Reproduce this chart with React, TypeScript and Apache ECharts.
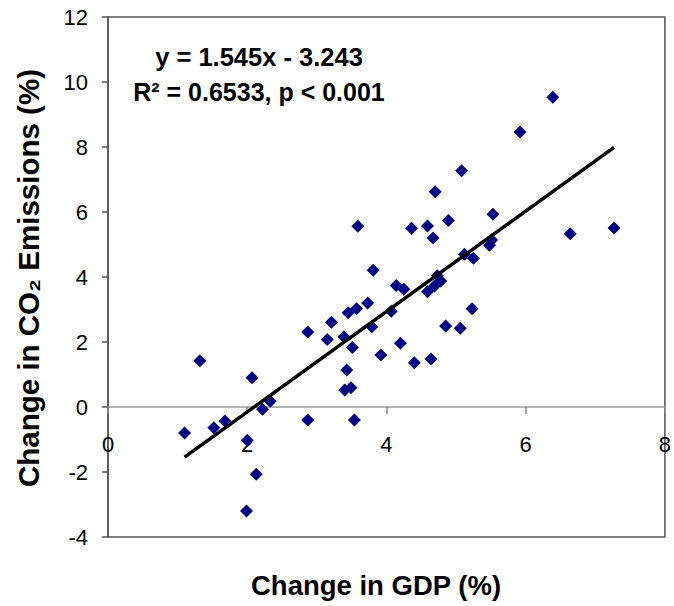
import React, { useEffect, useRef } from "react";
import * as echarts from "echarts";

const gdp = [
  1.10, 1.32, 1.52, 1.68, 2.07, 2.00, 2.13, 1.99, 2.22, 2.33,
  2.87, 2.87, 3.15, 3.21, 3.39, 3.51, 3.43, 3.40, 3.49, 3.54,
  3.92, 3.45, 3.57, 3.73, 3.79, 3.81, 3.59, 4.36, 4.14, 4.25,
  4.07, 4.20, 4.40, 5.08, 4.70, 4.59, 4.67, 4.89, 5.53, 5.51,
  5.48, 5.12, 5.25, 4.73, 4.78, 4.59, 4.69, 5.23, 4.85, 5.06,
  4.64, 6.39, 5.92, 6.64, 7.27,
];
const co2 = [
  -0.80, 1.42, -0.64, -0.43, 0.90, -1.02, -2.07, -3.20, -0.07, 0.18,
  -0.40, 2.31, 2.08, 2.61, 2.16, 1.83, 1.14, 0.52, 0.59, -0.40,
  1.60, 2.90, 3.02, 3.20, 2.47, 4.21, 5.56, 5.50, 3.74, 3.62,
  2.95, 1.96, 1.36, 7.27, 6.62, 5.57, 5.20, 5.74, 5.93, 5.14,
  4.98, 4.70, 4.58, 4.04, 3.88, 3.55, 3.72, 3.02, 2.49, 2.42,
  1.48, 9.53, 8.46, 5.33, 5.51,
];
const trendSlope = 1.545;
const trendIntercept = -3.243;
const equationText = "y = 1.545x - 3.243";
const statsText = "R² = 0.6533, p < 0.001";
const xTitle = "Change in GDP (%)";
const yTitle = "Change in CO₂ Emissions (%)";

export default function App() {
  const ref = useRef<HTMLDivElement>(null);
  useEffect(() => {
    document.body.style.margin = "0";
    if (!ref.current) return;
    const chart = echarts.init(ref.current, null, { renderer: "svg" });
    const points = gdp.map((x, i) => [x, co2[i]]);
    const xMin = Math.min(...gdp);
    const xMax = Math.max(...gdp);
    const trend = [
      [xMin, trendSlope * xMin + trendIntercept],
      [xMax, trendSlope * xMax + trendIntercept],
    ];
    const font = "'Liberation Sans', Arial, sans-serif";
    const gridTop = 17;
    const gridBottomPx = 537;
    const yMin = -4;
    const yMax = 12;
    const zeroPx = gridTop + ((yMax - 0) / (yMax - yMin)) * (gridBottomPx - gridTop);
    chart.setOption({
      animation: false,
      backgroundColor: "#ffffff",
      grid: {
        left: 108,
        top: gridTop,
        right: 5,
        bottom: 606 - gridBottomPx,
        show: true,
        borderColor: "#555555",
        borderWidth: 1.5,
        backgroundColor: "transparent",
      },
      xAxis: {
        type: "value",
        min: 0,
        max: 8,
        interval: 2,
        position: "bottom",
        offset: -(gridBottomPx - zeroPx),
        axisLine: { show: true, onZero: false, lineStyle: { color: "#999999", width: 1.5 } },
        axisTick: { show: true, length: 7, lineStyle: { color: "#888888", width: 1.5 } },
        axisLabel: { fontSize: 22, color: "#000", fontFamily: font, margin: 26 },
        splitLine: { show: false },
      },
      yAxis: {
        type: "value",
        min: yMin,
        max: yMax,
        interval: 2,
        axisLine: { show: true, onZero: false, lineStyle: { color: "#555555", width: 1.5 } },
        axisTick: { show: true, length: 6, lineStyle: { color: "#555555", width: 1.5 } },
        axisLabel: { fontSize: 22, color: "#000", fontFamily: font, margin: 20 },
        splitLine: { show: false },
      },
      series: [
        {
          type: "scatter",
          data: points,
          symbol: "diamond",
          symbolSize: 13,
          itemStyle: { color: "#000080", opacity: 1 },
          z: 3,
        },
        {
          type: "line",
          data: trend,
          symbol: "none",
          lineStyle: { color: "#000000", width: 3.5 },
          z: 4,
        },
      ],
      graphic: [
        {
          type: "text",
          x: 259,
          y: 57,
          style: {
            text: equationText,
            fontSize: 25.5,
            fontWeight: "bold",
            fontFamily: font,
            fill: "#000",
            textAlign: "center",
            textVerticalAlign: "middle",
          },
        },
        {
          type: "text",
          x: 259,
          y: 92,
          style: {
            text: statsText,
            fontSize: 25,
            fontWeight: "bold",
            fontFamily: font,
            fill: "#000",
            textAlign: "center",
            textVerticalAlign: "middle",
          },
        },
        {
          type: "text",
          x: 376,
          y: 585,
          style: {
            text: xTitle,
            fontSize: 27.5,
            fontWeight: "bold",
            fontFamily: font,
            fill: "#000",
            textAlign: "center",
            textVerticalAlign: "middle",
          },
        },
        {
          type: "text",
          x: 28,
          y: 278,
          rotation: Math.PI / 2,
          style: {
            text: yTitle,
            fontSize: 29.5,
            fontWeight: "bold",
            fontFamily: font,
            fill: "#000",
            textAlign: "center",
            textVerticalAlign: "middle",
          },
        },
      ],
    });
    return () => chart.dispose();
  }, []);
  return <div ref={ref} style={{ width: 674, height: 606 }} />;
}
